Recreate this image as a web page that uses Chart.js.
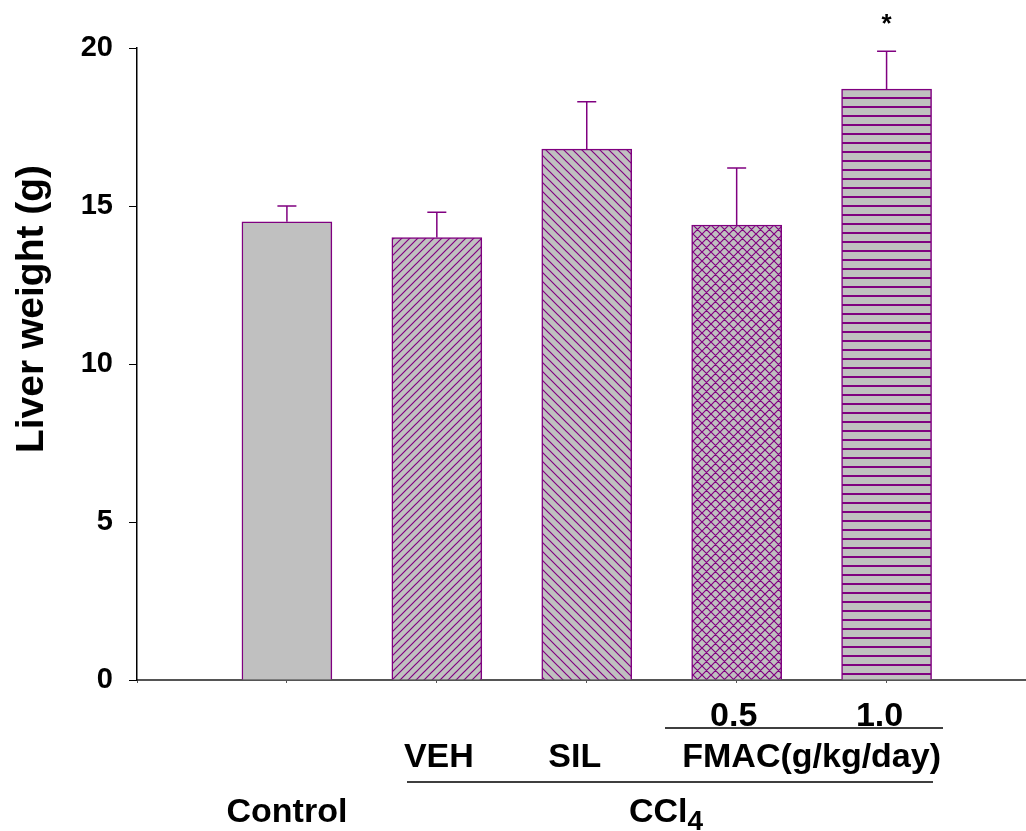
<!DOCTYPE html>
<html>
<head>
<meta charset="utf-8">
<script src="https://cdn.jsdelivr.net/npm/chart.js@4"></script>
<style>
  body { margin: 0; background: #fff; }
  canvas { display: block; }
</style>
</head>
<body>
<canvas id="chart" width="1026" height="831"></canvas>
<script>
// data
const groups = ["Control", "VEH", "SIL", "FMAC 0.5", "FMAC 1.0"];
const xPos = [1, 2, 3, 4, 5];
const liverWeight = [14.5, 14.0, 16.8, 14.4, 18.7];
const upperError = [15.0, 14.8, 18.3, 16.2, 19.9];
const significant = [false, false, false, false, true];
const yTicks = [0, 5, 10, 15, 20];

const PURPLE = "#800080";
const GREY = "#c0c0c0";
const FONT = "'Liberation Sans', Arial, sans-serif";

// hatch fills
function hatch(kind, size) {
  const c = document.createElement("canvas");
  c.width = size; c.height = size;
  const g = c.getContext("2d");
  g.fillStyle = GREY;
  g.fillRect(0, 0, size, size);
  g.strokeStyle = PURPLE;
  g.lineWidth = 1.2;
  g.beginPath();
  if (kind === "fwd" || kind === "cross") {
    g.moveTo(0, size); g.lineTo(size, 0);
    g.moveTo(-size / 2, size / 2); g.lineTo(size / 2, -size / 2);
    g.moveTo(size / 2, size * 1.5); g.lineTo(size * 1.5, size / 2);
  }
  if (kind === "back" || kind === "cross") {
    g.moveTo(0, 0); g.lineTo(size, size);
    g.moveTo(-size / 2, size / 2); g.lineTo(size / 2, size * 1.5);
    g.moveTo(size / 2, -size / 2); g.lineTo(size * 1.5, size / 2);
  }
  if (kind === "horiz") {
    g.lineWidth = 2;
    g.moveTo(0, size - 1); g.lineTo(size, size - 1);
  }
  g.stroke();
  return g.createPattern(c, "repeat");
}

const ctx = document.getElementById("chart").getContext("2d");
const fills = [GREY, hatch("fwd", 8), hatch("back", 9), hatch("cross", 9), hatch("horiz", 9)];

// error bars + star
const errorBars = {
  id: "errorBars",
  afterDatasetsDraw(chart) {
    const x = chart.scales.x, y = chart.scales.y, c = chart.ctx;
    c.save();
    c.strokeStyle = PURPLE;
    c.lineWidth = 1.5;
    xPos.forEach((v, i) => {
      const px = x.getPixelForValue(v);
      const top = y.getPixelForValue(upperError[i]);
      const base = y.getPixelForValue(liverWeight[i]);
      c.beginPath();
      c.moveTo(px, base); c.lineTo(px, top);
      c.moveTo(px - 9.5, top); c.lineTo(px + 9.5, top);
      c.stroke();
      if (significant[i]) {
        c.fillStyle = "#000";
        c.font = "bold 26px " + FONT;
        c.textAlign = "center";
        c.textBaseline = "middle";
        c.fillText("*", px, top - 26);
      }
    });
    c.restore();
  }
};

// axis title and group labels under the axis
const groupLabels = {
  id: "groupLabels",
  afterDraw(chart) {
    const x = chart.scales.x, c = chart.ctx;
    c.save();
    c.fillStyle = "#000";
    c.strokeStyle = "#000";
    c.lineWidth = 1.5;
    c.textAlign = "center";
    c.textBaseline = "alphabetic";

    c.save();
    c.translate(43, 309);
    c.rotate(-Math.PI / 2);
    c.font = "bold 39px " + FONT;
    c.fillText("Liver weight (g)", 0, 0);
    c.restore();

    c.font = "bold 34px " + FONT;
    c.fillText("0.5", x.getPixelForValue(4) - 3, 726);
    c.fillText("1.0", x.getPixelForValue(5) - 7, 726);
    c.fillText("VEH", x.getPixelForValue(2) + 2, 767);
    c.fillText("SIL", x.getPixelForValue(3) - 12, 767);
    c.fillText("FMAC(g/kg/day)", x.getPixelForValue(4.5), 767);
    c.fillText("Control", x.getPixelForValue(1), 822);
    // CCl4 with subscript
    c.textAlign = "left";
    const cx = 629;
    c.fillText("CCl", cx, 822);
    const w = c.measureText("CCl").width;
    c.font = "bold 28px " + FONT;
    c.fillText("4", cx + w, 830);
    // bracket lines
    c.beginPath();
    c.moveTo(665, 728); c.lineTo(943, 728);
    c.moveTo(407, 782); c.lineTo(933, 782);
    c.stroke();
    c.restore();
  }
};

new Chart(ctx, {
  type: "bar",
  data: {
    datasets: [{
      label: "Liver weight",
      data: xPos.map((v, i) => ({ x: v, y: liverWeight[i] })),
      backgroundColor: fills,
      borderColor: PURPLE,
      borderWidth: 1.5,
      barThickness: 90
    }]
  },
  options: {
    responsive: false,
    animation: false,
    layout: { padding: { top: 48, left: 0, right: 0, bottom: 0 } },
    plugins: { legend: { display: false }, tooltip: { enabled: false } },
    scales: {
      x: {
        type: "linear",
        offset: false,
        min: 0,
        max: 5.93,
        afterBuildTicks: (s) => { s.ticks = s.ticks.filter(t => Number.isInteger(t.value)); },
        afterFit: (s) => { s.height = 151; },
        ticks: { stepSize: 1, callback: () => "" },
        grid: { offset: false, drawOnChartArea: false, drawTicks: true, tickLength: 3, color: "#555" },
        border: { color: "#555", width: 2 }
      },
      y: {
        min: 0,
        max: 20,
        afterBuildTicks: (s) => { s.ticks = yTicks.map(v => ({ value: v })); },
        afterFit: (s) => { s.width = 137; },
        ticks: {
          color: "#000",
          padding: 16,
          font: { family: FONT, size: 29, weight: "bold" }
        },
        grid: { drawOnChartArea: false, drawTicks: true, tickLength: 8, color: "#000" },
        border: { color: "#000", width: 1.5 }
      }
    }
  },
  plugins: [errorBars, groupLabels]
});
</script>
</body>
</html>
